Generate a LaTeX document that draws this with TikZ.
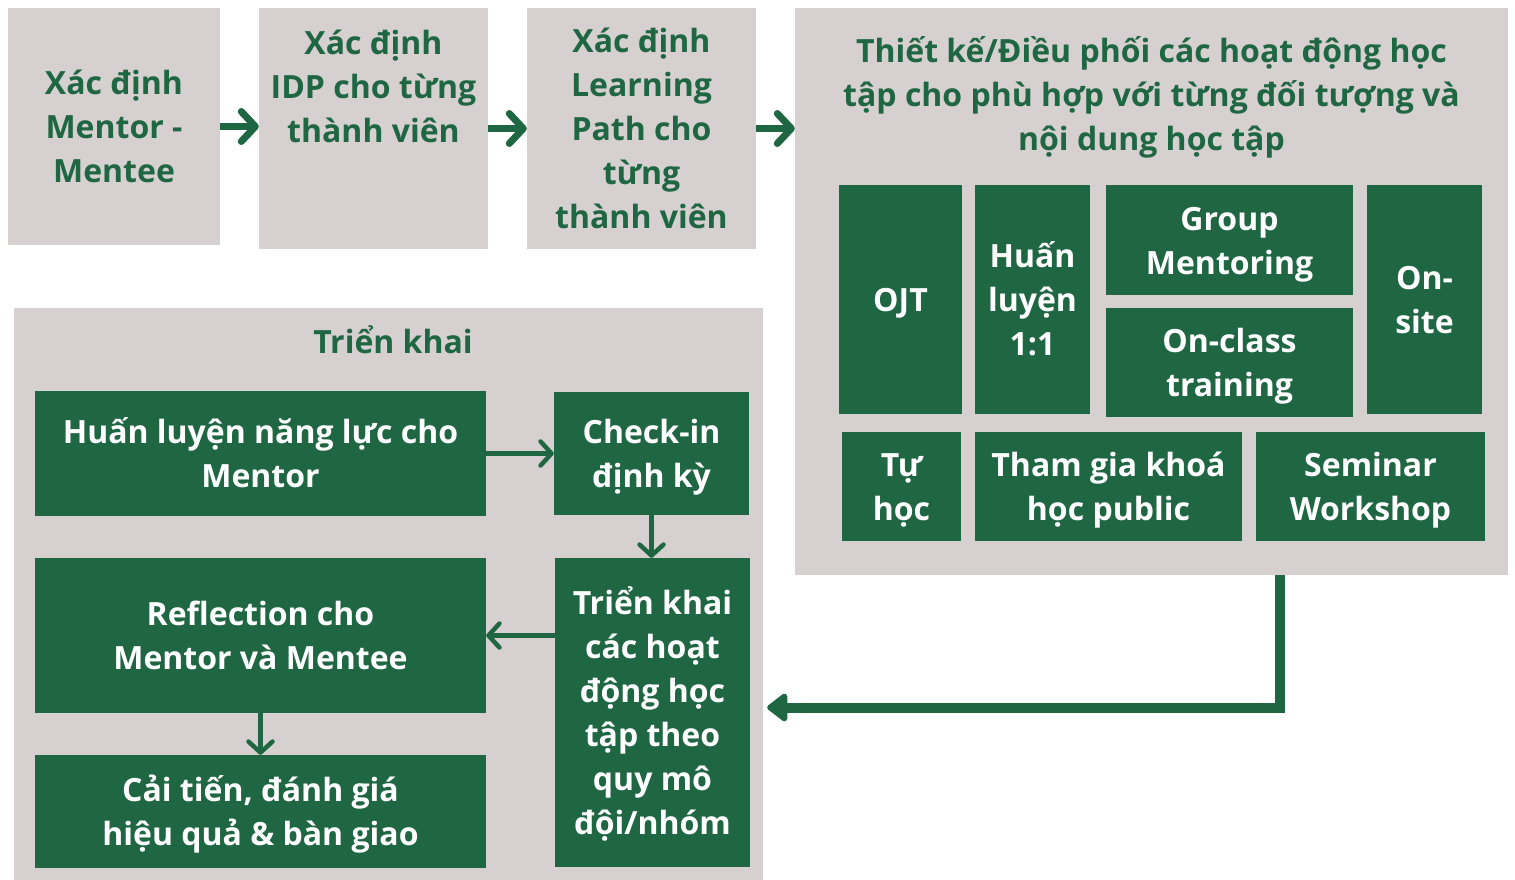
\documentclass[tikz,border=0pt]{standalone}
\usepackage{fontspec}
\setmainfont{Open Sans}
\usetikzlibrary{arrows.meta}

\definecolor{boxgrey}{HTML}{D6D0D0}
\definecolor{darkgreen}{HTML}{1F6643}

\begin{document}
\begin{tikzpicture}[x=1pt,y=-1pt,
  greybox/.style={fill=boxgrey, inner sep=0pt},
  greenbox/.style={fill=darkgreen, text=white, align=flush center, inner sep=0pt,
    font=\bfseries\fontsize{32}{44}\selectfont,
    execute at begin node={\rule{0pt}{34pt}},
    execute at end node={\rule[-10pt]{0pt}{10pt}}},
  title/.style={text=darkgreen, align=center, inner sep=0pt,
    font=\bfseries\fontsize{32}{44}\selectfont},
  flow/.style={draw=darkgreen, line width=7pt,
    -{Straight Barb[length=14pt,width=30pt,round]}},
  thinflow/.style={draw=darkgreen, line width=4.5pt,
    -{Straight Barb[length=11pt,width=24pt,round]}},
  bigflow/.style={draw=darkgreen, line width=10pt,
    -{Triangle[length=22pt,width=32pt,round]}}]

\useasboundingbox (0,0) rectangle (1515,880);

% Box A
\node[greybox, title, minimum width=212pt, minimum height=237pt] (A) at (114,126.5)
  {Xác định\\Mentor -\\Mentee};

% Box B
\node[greybox, minimum width=229pt, minimum height=241pt] (B) at (373.5,128.5) {};
\node[title] (Bt) at (373.5,86) {Xác định\\IDP cho từng\\thành viên};

% Box C
\node[greybox, title, minimum width=229pt, minimum height=241pt] (C) at (641.5,128.5)
  {Xác định\\Learning\\Path cho\\từng\\thành viên};

% Box D
\node[greybox, minimum width=713pt, minimum height=567pt] (D) at (1151.5,291.5) {};
\node[title] (Dt) at (1151.5,97)
  {Thiết kế/Điều phối các hoạt động học\\tập cho phù hợp với từng đối tượng và\\nội dung học tập};

\node[greenbox, text width=123pt, minimum height=229pt] (D1) at (900.5,299.5) {OJT};
\node[greenbox, text width=115pt, minimum height=229pt] (D2) at (1032.5,299.5) {Huấn\\luyện\\1:1};
\node[greenbox, text width=247pt, minimum height=110pt] (D3) at (1229.5,240) {Group\\Mentoring};
\node[greenbox, text width=247pt, minimum height=109pt] (D4) at (1229.5,362.5) {On-class\\training};
\node[greenbox, text width=115pt, minimum height=229pt] (D5) at (1424.5,299.5) {On-\\site};
\node[greenbox, text width=119pt, minimum height=109pt] (D6) at (901.5,486.5) {Tự\\học};
\node[greenbox, text width=267pt, minimum height=109pt] (D7) at (1108.5,486.5) {Tham gia khoá\\học public};
\node[greenbox, text width=229pt, minimum height=109pt] (D8) at (1370.5,486.5) {Seminar\\Workshop};

% Box E
\node[greybox, minimum width=749pt, minimum height=572pt] (E) at (388.5,594) {};
\node[title] (Et) at (393,340) {Triển khai};

\node[greenbox, text width=451pt, minimum height=125pt] (E1) at (260.5,453.5) {Huấn luyện năng lực cho\\Mentor};
\node[greenbox, text width=195pt, minimum height=123pt] (E2) at (651.5,453.5) {Check-in\\định kỳ};
\node[greenbox, text width=195pt, minimum height=309pt] (E3) at (652.5,712.5)
  {Triển khai\\các hoạt\\động học\\tập theo\\quy mô\\đội/nhóm};
\node[greenbox, text width=451pt, minimum height=155pt] (E4) at (260.5,635.5) {Reflection cho\\Mentor và Mentee};
\node[greenbox, text width=451pt, minimum height=113pt] (E5) at (260.5,811.5) {Cải tiến, đánh giá\\hiệu quả \& bàn giao};

% Arrows
\draw[flow] (A.east) -- (A.east -| B.west);
\draw[flow] (B.east) -- (C.west);
\draw[flow] (C.east) -- (D.west |- C.east);
\draw[bigflow] ([xshift=128.5pt]D.south) |- ([xshift=4pt,yshift=5pt]E.east |- E3.east);

\draw[thinflow] (E1.east) -- (E2.west);
\draw[thinflow] (E2.south) -- (E2.south |- E3.north);
\draw[thinflow] (E3.west |- E4.east) -- (E4.east);
\draw[thinflow] (E4.south) -- (E5.north);

\end{tikzpicture}
\end{document}
